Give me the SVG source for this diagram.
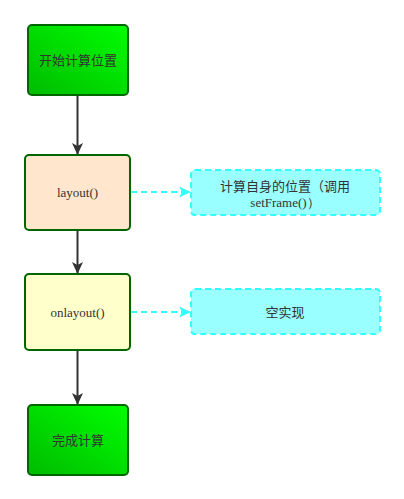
<svg xmlns="http://www.w3.org/2000/svg" width="404" height="499" viewBox="0 0 404 499">
<defs>
<linearGradient id="g" x1="0" y1="1" x2="1" y2="0">
<stop offset="0" stop-color="#00bb00"/>
<stop offset="1" stop-color="#00ff00"/>
</linearGradient>
<marker id="a" markerWidth="12" markerHeight="12" refX="11" refY="6" orient="auto" markerUnits="userSpaceOnUse">
<path d="M0,0.5 L12,6 L0,11.5 L3,6 Z" fill="#333"/>
</marker>
<marker id="c" markerWidth="12" markerHeight="12" refX="11" refY="6" orient="auto" markerUnits="userSpaceOnUse">
<path d="M0,0.5 L12,6 L0,11.5 L3,6 Z" fill="#33ffff"/>
</marker>
</defs>
<style>
.green{fill:url(#g);stroke:#006600;stroke-width:2}
.node{stroke:#006600;stroke-width:2}
.note{fill:#99ffff;stroke:#33ffff;stroke-width:2;stroke-dasharray:6,4}
.zh{font-family:"Noto Sans CJK SC","Noto Sans",sans-serif;font-size:13px;fill:#333;text-anchor:middle}
.en{font-family:"Liberation Serif",serif;font-size:13px;fill:#333;text-anchor:middle}
.solid{stroke:#333;stroke-width:2;fill:none}
.dash{stroke:#33ffff;stroke-width:2;stroke-dasharray:6,4;fill:none}
</style>
<g id="connectors">
<line class="solid" x1="77.5" y1="95" x2="77.5" y2="154" marker-end="url(#a)"/>
<line class="solid" x1="77.5" y1="230" x2="77.5" y2="273" marker-end="url(#a)"/>
<line class="solid" x1="77.5" y1="350" x2="77.5" y2="404" marker-end="url(#a)"/>
<line class="dash" x1="131" y1="192" x2="190" y2="192" marker-end="url(#c)"/>
<line class="dash" x1="131" y1="312" x2="190" y2="312" marker-end="url(#c)"/>
</g>
<g id="start">
<rect class="green" x="28" y="25" width="100" height="70" rx="4"/>
<text class="zh" x="78" y="65">开始计算位置</text>
</g>
<g id="layout">
<rect class="node" fill="#ffe6cc" x="25" y="155" width="105" height="75" rx="4"/>
<text class="en" x="77.5" y="197">layout()</text>
</g>
<g id="note1">
<rect class="note" x="191" y="170" width="189" height="45" rx="4"/>
<text class="zh" x="285" y="191">计算自身的位置（调用</text>
<text class="en" x="285" y="207">setFrame()）</text>
</g>
<g id="onlayout">
<rect class="node" fill="#ffffcc" x="25" y="274" width="105" height="76" rx="4"/>
<text class="en" x="77.5" y="317">onlayout()</text>
</g>
<g id="note2">
<rect class="note" x="191" y="289" width="189" height="45" rx="4"/>
<text class="zh" x="285" y="317">空实现</text>
</g>
<g id="end">
<rect class="green" x="28" y="405" width="100" height="70" rx="4"/>
<text class="zh" x="78" y="445">完成计算</text>
</g>
</svg>
